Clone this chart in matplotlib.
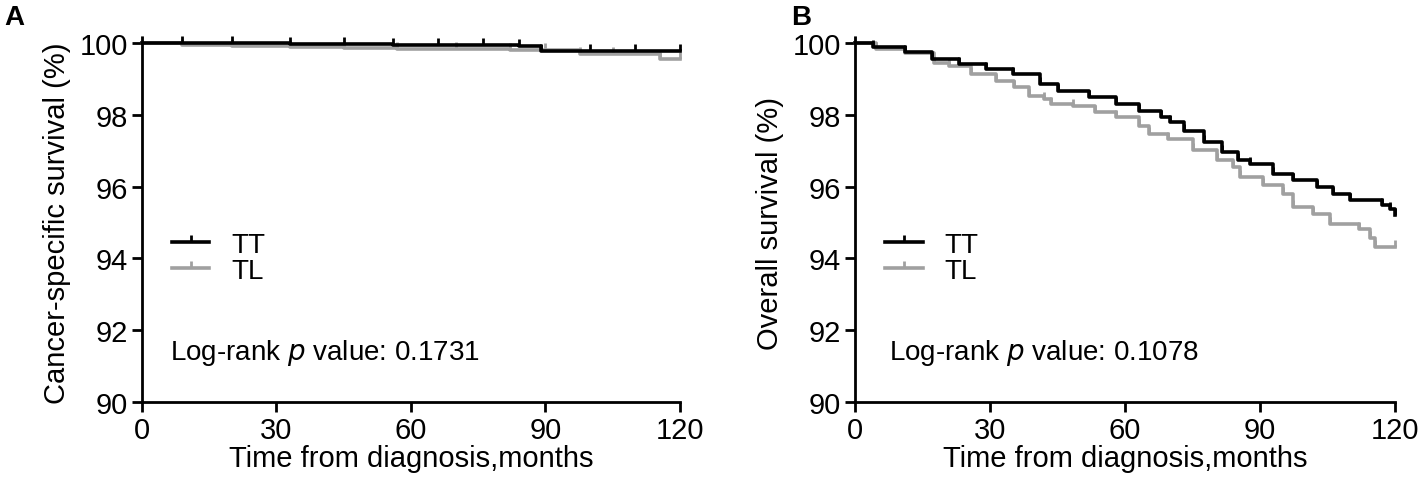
import matplotlib
matplotlib.use("Agg")
import matplotlib.pyplot as plt

plt.rcParams['font.family'] = ['Liberation Sans', 'DejaVu Sans']

# panel A: cancer-specific survival (step times in months, survival %)
css_tt_time = [0, 9, 20, 33, 45, 56, 66, 76, 84, 89, 100, 110, 120]
css_tt_surv = [100, 99.99, 99.99, 99.98, 99.97, 99.96, 99.96, 99.95, 99.92, 99.79, 99.79, 99.79, 99.79]
css_tl_time = [0, 9, 20, 33, 45, 57, 70, 82, 90, 97.7, 105, 115.5, 120]
css_tl_surv = [100, 99.94, 99.93, 99.88, 99.87, 99.85, 99.84, 99.80, 99.80, 99.70, 99.70, 99.57, 99.57]

# panel B: overall survival
os_tt_time = [0, 4, 11, 17, 23, 29, 35, 41, 45, 52, 58, 63, 68, 70, 73, 77.5,
              81.6, 85, 87.8, 92.9, 97.4, 102.6, 106.2, 110, 117, 118.8, 120]
os_tt_surv = [100, 99.88, 99.74, 99.57, 99.42, 99.28, 99.14, 98.86, 98.68, 98.49, 98.31,
              98.12, 97.94, 97.80, 97.56, 97.24, 96.97, 96.75, 96.64, 96.36, 96.18, 96.0,
              95.8, 95.62, 95.5, 95.39, 95.2]
os_tl_time = [0, 4.7, 11.2, 17.6, 20.9, 25.7, 31.4, 35.4, 38.7, 41.9, 43.5, 48.4, 53.3,
              58.1, 63, 65.4, 69.5, 75, 80.4, 84, 85.6, 90.7, 95.1, 97.4, 101.8, 105.6,
              112, 114.4, 115.6, 120]
os_tl_surv = [100, 99.83, 99.72, 99.46, 99.37, 99.14, 98.95, 98.77, 98.54, 98.44, 98.31,
              98.26, 98.07, 97.94, 97.70, 97.47, 97.33, 97.03, 96.73, 96.55, 96.27, 96.04,
              95.8, 95.44, 95.25, 94.97, 94.83, 94.56, 94.32, 94.32]

p_values = ["0.1731", "0.1078"]
y_labels = ["Cancer-specific survival (%)", "Overall survival (%)"]
panel_tags = ["A", "B"]
groups = ["TT", "TL"]
colors = ["black", "#a0a0a0"]

fig = plt.figure(figsize=(14.18, 4.85), dpi=100)
ax_a = fig.add_axes([0.1001, 0.169, 0.3794, 0.740])
ax_b = fig.add_axes([0.6030, 0.169, 0.3808, 0.740])

panels = [
    (ax_a, (css_tt_time, css_tt_surv), (css_tl_time, css_tl_surv)),
    (ax_b, (os_tt_time, os_tt_surv), (os_tl_time, os_tl_surv)),
]

for i, (ax, tt, tl) in enumerate(panels):
    # draw TL first so TT sits on top
    for (t, s), name, col, z in [(tl, groups[1], colors[1], 2), (tt, groups[0], colors[0], 3)]:
        ax.plot(t, s, drawstyle='steps-post', color=col, lw=2.6, marker=2,
                markersize=5, markeredgewidth=2, label=name, clip_on=False, zorder=z)
    ax.set_xlim(0, 120)
    ax.set_ylim(90, 100)
    ax.set_xticks([0, 30, 60, 90, 120])
    ax.set_yticks([90, 92, 94, 96, 98, 100])
    for side in ['top', 'right']:
        ax.spines[side].set_visible(False)
    for side in ['left', 'bottom']:
        ax.spines[side].set_linewidth(2)
    ax.tick_params(width=2, length=7, labelsize=21, pad=3)
    ax.set_xlabel("Time from diagnosis,months", fontsize=21, labelpad=0)
    ax.set_ylabel(y_labels[i], fontsize=21, labelpad=6)

    h, l = ax.get_legend_handles_labels()
    ax.legend(h[::-1], l[::-1], loc='upper left', bbox_to_anchor=(0.035, 0.505),
              frameon=False, fontsize=20, handlelength=1.35, handletextpad=0.8,
              labelspacing=0.0, borderaxespad=0)

    ax.text(0.052 if i == 0 else 0.062, 0.14, "Log-rank $p$ value: " + p_values[i],
            transform=ax.transAxes, fontsize=20, va='center')
    fig.text(0.003 if i == 0 else 0.558, 0.99, panel_tags[i], fontsize=20,
             fontweight='bold', va='top')

fig.savefig("out.png", dpi=100)
